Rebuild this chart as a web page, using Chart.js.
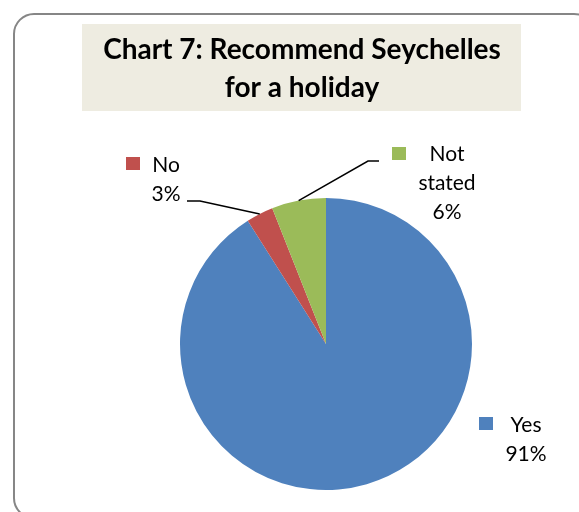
<!DOCTYPE html>
<html>
<head>
<meta charset="utf-8">
<title>Chart 7: Recommend Seychelles for a holiday</title>
<script src="https://cdn.jsdelivr.net/npm/chart.js@4/dist/chart.umd.min.js"></script>
<style>
    html, body { margin: 0; padding: 0; background: #ffffff; }
    #wrap { position: relative; width: 579px; height: 512px; }
</style>
</head>
<body>
<div id="wrap"><canvas id="pieChart" width="579" height="512"></canvas></div>
<script>
// chart data
const titleLines = ['Chart 7: Recommend Seychelles', 'for a holiday'];
const categories = ['Yes', 'No', 'Not stated'];
const shares = [91, 3, 6];
const sliceColors = ['#4F81BD', '#C0504D', '#9BBB59'];

// where each data label sits (text centre x, first baseline y, leader elbow)
const labelLayout = [
    { cx: 526, y: 432, square: [479, 417], leader: null },
    { cx: 166, y: 172, square: [126, 157], leader: [[187, 201], [200, 201]] },
    { cx: 447, y: 161, square: [392, 147], leader: [[379, 161], [368, 161]] }
];

const FONT = 'Lato, "Open Sans", "Noto Sans", sans-serif';

// frame + title box behind the pie
const framePlugin = {
    id: 'frame',
    beforeDraw(chart) {
        const ctx = chart.ctx;
        ctx.save();
        ctx.fillStyle = '#ffffff';
        ctx.fillRect(0, 0, chart.width, chart.height);

        // rounded outer border, runs off the right and bottom edges
        ctx.strokeStyle = '#868686';
        ctx.lineWidth = 2;
        ctx.beginPath();
        ctx.roundRect(14, 14, 580, 504, 20);
        ctx.stroke();

        // title box
        ctx.fillStyle = '#EEECE1';
        ctx.fillRect(82, 24, 439, 87);
        ctx.fillStyle = '#000000';
        ctx.textAlign = 'center';
        ctx.textBaseline = 'alphabetic';
        ctx.font = 'bold 28px ' + FONT;
        const targetW = 421;
        const w = ctx.measureText(titleLines[0]).width;
        const sx = w > targetW ? targetW / w : 1;
        titleLines.forEach((line, i) => {
            ctx.save();
            ctx.translate(302, 59 + i * 38);
            ctx.scale(sx, 1);
            ctx.fillText(line, 0, 0);
            ctx.restore();
        });
        ctx.restore();
    }
};

// data labels with legend keys and leader lines
const labelPlugin = {
    id: 'sliceLabels',
    afterDatasetsDraw(chart) {
        const ctx = chart.ctx;
        const meta = chart.getDatasetMeta(0);
        ctx.save();
        meta.data.forEach((arc, i) => {
            const lay = labelLayout[i];
            const p = arc.getProps(['x', 'y', 'startAngle', 'endAngle', 'outerRadius'], true);
            const mid = (p.startAngle + p.endAngle) / 2;
            const ex = p.x + Math.cos(mid) * p.outerRadius;
            const ey = p.y + Math.sin(mid) * p.outerRadius;

            if (lay.leader) {
                ctx.strokeStyle = '#000000';
                ctx.lineWidth = 1.5;
                ctx.beginPath();
                ctx.moveTo(lay.leader[0][0], lay.leader[0][1]);
                ctx.lineTo(lay.leader[1][0], lay.leader[1][1]);
                ctx.lineTo(ex, ey);
                ctx.stroke();
            }

            ctx.fillStyle = sliceColors[i];
            ctx.fillRect(lay.square[0], lay.square[1], 14, 13);

            const lines = categories[i].split(' ').concat([shares[i] + '%']);
            ctx.fillStyle = '#000000';
            ctx.font = '21px ' + FONT;
            ctx.textAlign = 'center';
            lines.forEach((t, j) => ctx.fillText(t, lay.cx, lay.y + j * 29));
        });
        ctx.restore();
    }
};

function initCharts() {
    const ctx = document.getElementById('pieChart');
    new Chart(ctx, {
        type: 'pie',
        data: {
            labels: categories,
            datasets: [{
                data: shares,
                backgroundColor: sliceColors,
                borderWidth: 0
            }]
        },
        options: {
            responsive: false,
            animation: false,
            layout: { padding: { left: 180, right: 107, top: 198, bottom: 22 } },
            plugins: {
                legend: { display: false },
                title: { display: false },
                tooltip: { enabled: false }
            }
        },
        plugins: [framePlugin, labelPlugin]
    });
}

document.addEventListener('DOMContentLoaded', initCharts);
</script>
</body>
</html>
